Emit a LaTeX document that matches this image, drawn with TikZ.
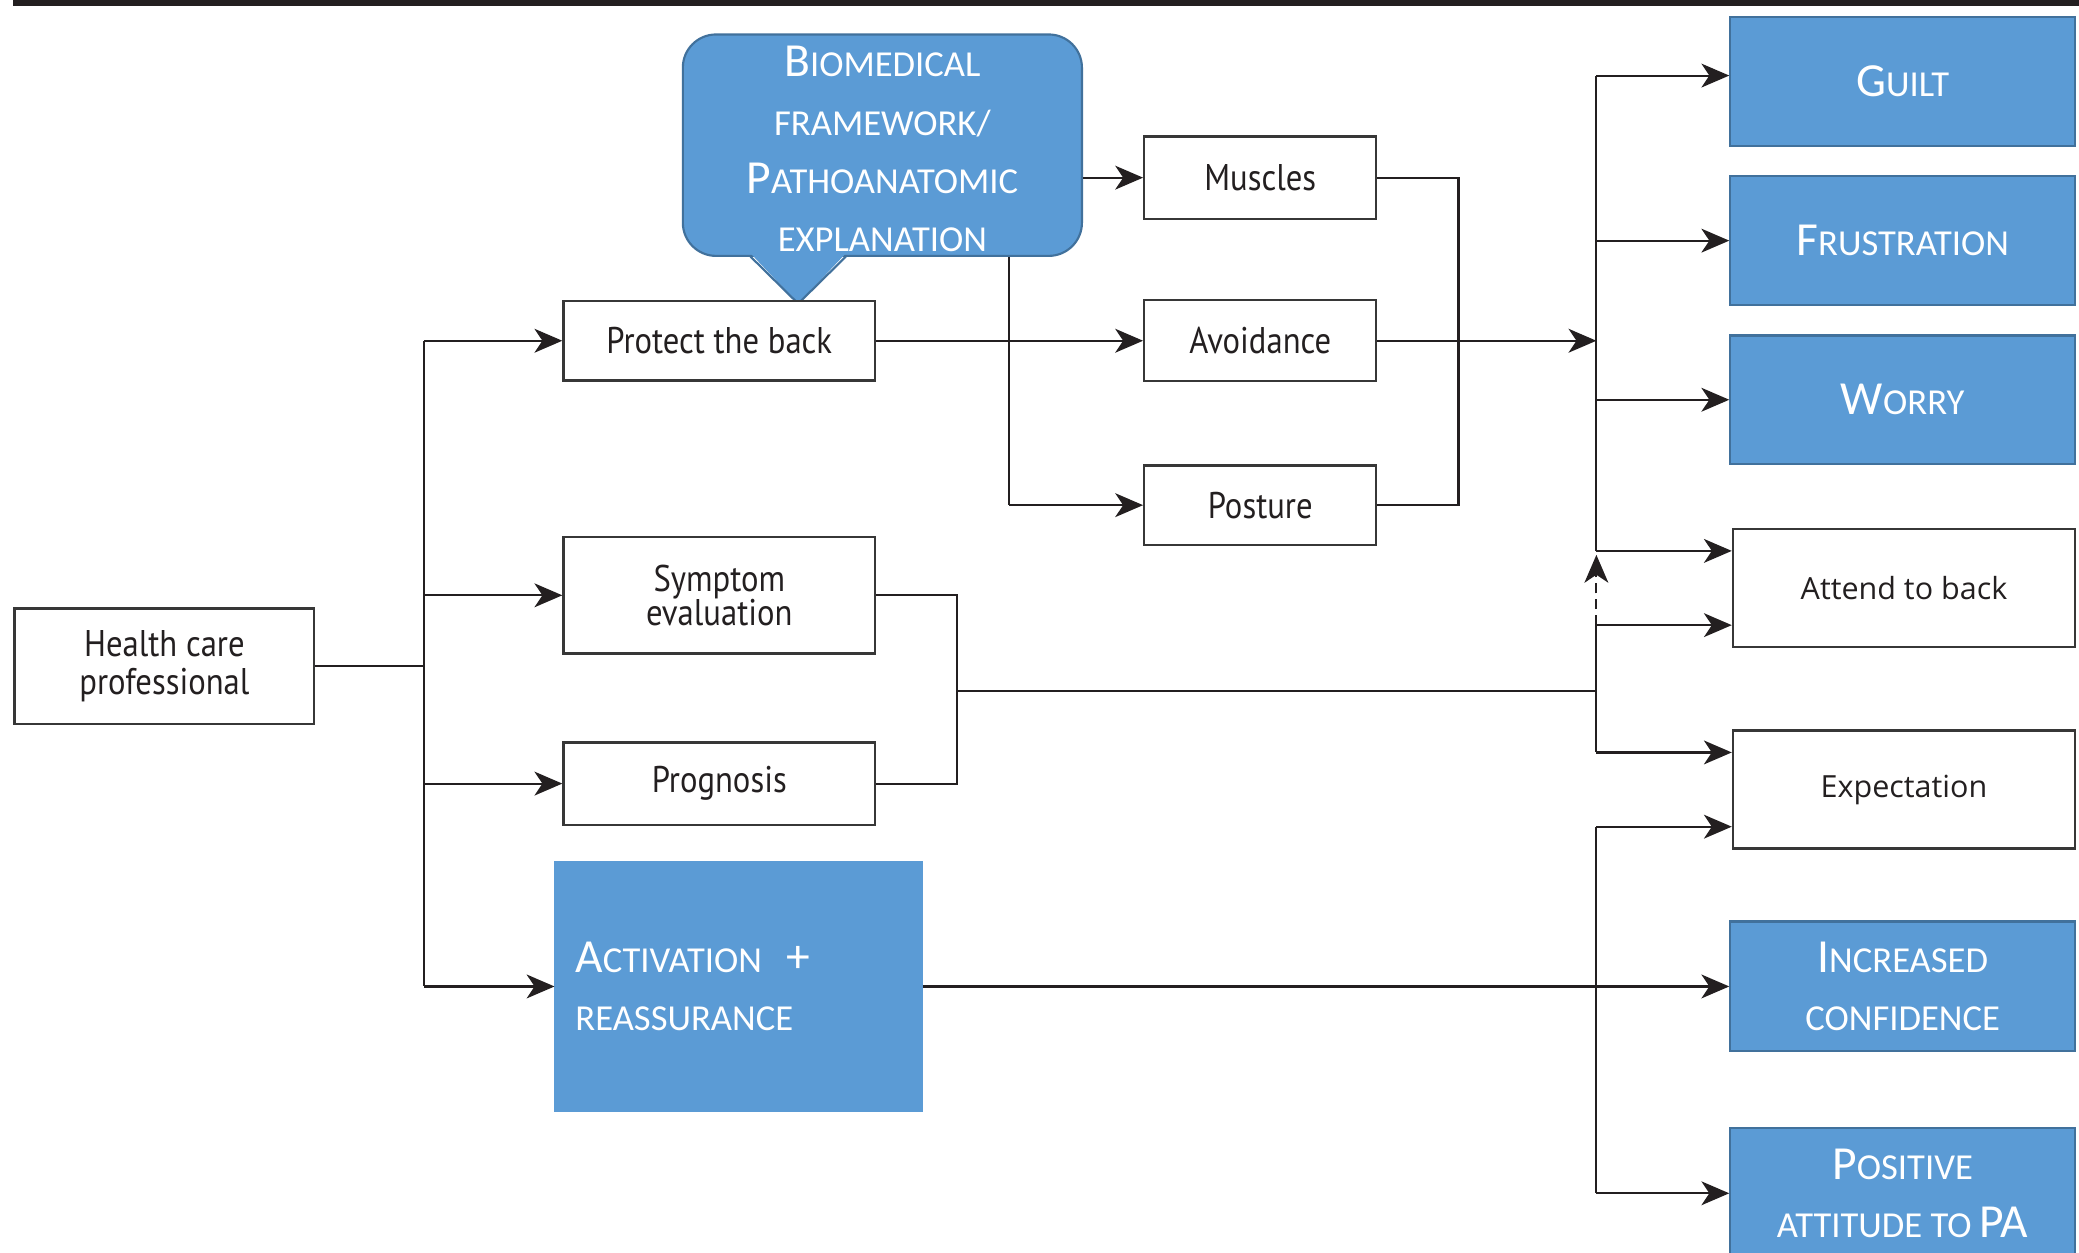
\documentclass[tikz,border=0pt]{standalone}
\usepackage{fontspec}
\setmainfont{PT Sans}
\newfontfamily\narrowfont[FakeStretch=0.88]{PT Sans}
\newfontfamily\calfont{Carlito}
\newfontfamily\opfont{Open Sans}
\usetikzlibrary{arrows.meta}

\definecolor{boxblue}{RGB}{91,155,213}
\definecolor{blueedge}{RGB}{65,113,156}
\definecolor{ink}{RGB}{35,31,32}
\definecolor{edge}{RGB}{55,55,55}

% large initial capital for the small-caps labels
\newcommand\capl[1]{{\fontsize{17.9pt}{22pt}\selectfont #1}}

\tikzset{
  plain/.style={draw=edge, line width=0.9pt, fill=white, text=ink,
    font=\narrowfont\fontsize{14pt}{14pt}\selectfont, align=center, inner sep=0pt},
  wide/.style={plain, font=\opfont\fontsize{11.5pt}{14pt}\selectfont},
  bluebox/.style={draw=blueedge, line width=0.8pt, fill=boxblue, text=white,
    font=\calfont\fontsize{13.8pt}{22pt}\selectfont, align=center, inner sep=0pt},
  link/.style={draw=ink, line width=0.8pt},
  tip/.style={-{Stealth[length=10.5pt,width=9pt,inset=3pt]}},
  arr/.style={link, tip},
}

\begin{document}
\begin{tikzpicture}[x=0.5pt, y=-0.5pt]
\useasboundingbox (0,0) rectangle (1568,945);
\fill[white] (0,0) rectangle (1568,945);

% rule across the top
\fill[ink] (9.5,0) rectangle (1568,4.5);

% callout bubble
\node[bluebox, rounded corners=12.5pt, minimum width=150.5pt, minimum height=83.5pt]
  (bubble) at (665.5,109.5) {};
\node[text=white, font=\calfont\fontsize{13.8pt}{22pt}\selectfont, align=center, inner sep=0pt]
  at (665.5,112.5)
  {\capl{B}IOMEDICAL\\ FRAMEWORK/\\ \capl{P}ATHOANATOMIC\\ EXPLANATION};
\fill[boxblue] (566,191) -- (602,229) -- (638,191) -- cycle;
\draw[blueedge, line width=0.8pt] (566,193.5) -- (602,229) -- (638,193.5);

% left column
\node[plain, minimum width=113pt, minimum height=43.5pt] (hcp) at (124,502.5)
  {Health care\\ professional};
\node[plain, minimum width=117.5pt, minimum height=30pt] (protect) at (542.5,257)
  {Protect the back};
\node[plain, minimum width=117.5pt, minimum height=44pt, font=\narrowfont\fontsize{14pt}{13pt}\selectfont]
  (symptom) at (542.5,449) {Symptom\\ evaluation};
\node[plain, minimum width=117.5pt, minimum height=31pt] (prognosis) at (542.5,591)
  {Prognosis};
\node[bluebox, draw=boxblue, text width=123pt, inner xsep=7.5pt, minimum height=94pt, align=left]
  (act) at (557,744) {\capl{A}CTIVATION\ \ \capl{+}\\ REASSURANCE};

% middle column
\node[plain, minimum width=87.5pt, minimum height=31pt] (muscles) at (950.5,134) {Muscles};
\node[plain, minimum width=87.5pt, minimum height=30.5pt] (avoid) at (950.5,257) {Avoidance};
\node[plain, minimum width=87.5pt, minimum height=30pt] (posture) at (950.5,381) {Posture};

% right column
\node[bluebox, minimum width=130pt, minimum height=48.5pt] (guilt) at (1435,61.5) {\capl{G}UILT};
\node[bluebox, minimum width=130pt, minimum height=48.5pt] (frust) at (1435,181.5) {\capl{F}RUSTRATION};
\node[bluebox, minimum width=130pt, minimum height=48.5pt] (worry) at (1435,301.5) {\capl{W}ORRY};
\node[wide, minimum width=129pt, minimum height=44.5pt] (attend) at (1436,443.5) {Attend to back};
\node[wide, minimum width=129pt, minimum height=44.5pt] (expect) at (1436,595.5) {Expectation};
\node[bluebox, minimum width=130pt, minimum height=49pt] (incr) at (1435,744)
  {\capl{I}NCREASED\\ CONFIDENCE};
\node[bluebox, minimum width=130pt, minimum height=49pt] (posit) at (1435,900)
  {\capl{P}OSITIVE\\ ATTITUDE TO \capl{PA}};

% junction points
\coordinate (L) at (320,502.5);
\coordinate (V) at (761,193);
\coordinate (M) at (1100,257);
\coordinate (S) at (722,520);
\coordinate (R) at (1204,257);
\coordinate (J) at (1204,521);
\coordinate (g1) at ([yshift=2.25pt]guilt.west);
\coordinate (a1) at ([yshift=14pt]attend.west);
\coordinate (a2) at ([yshift=-14pt]attend.west);
\coordinate (e1) at ([yshift=14pt]expect.west);
\coordinate (e2) at ([yshift=-14pt]expect.west);

% health care professional fan-out
\draw[link] (hcp.east) -- (L);
\draw[link] (L |- protect) -- (L |- act);
\draw[arr] (L |- protect) -- (protect);
\draw[arr] (L |- symptom) -- (symptom);
\draw[arr] (L |- prognosis) -- (prognosis);
\draw[arr] (L |- act) -- (act);

% biomedical framework branch
\draw[arr] (bubble.east |- muscles) -- (muscles.west);
\draw[arr] (protect.east) -- (avoid.west);
\draw[link] (V |- bubble.south) -- (V |- posture);
\draw[arr] (V |- posture) -- (posture.west);

% merge into the right trunk
\draw[link] (muscles.east) -| (M |- posture.east) -- (posture.east);
\draw[arr] (avoid.east) -- (R);
\draw[link] (R |- g1) -- (R |- a1);
\draw[arr] (R |- g1) -- (g1);
\draw[arr] (R |- frust) -- (frust);
\draw[arr] (R |- worry) -- (worry);
\draw[arr] (R |- a1) -- (a1);
\draw[arr] (R |- a2) -- (a2);

% symptom evaluation / prognosis branch
\draw[link] (symptom.east) -| (S |- prognosis.east) -- (prognosis.east);
\draw[link] (S |- J) -- (J);
\draw[link] (R |- a2) -- (R |- e1);
\draw[link, tip, dash pattern=on 4pt off 2pt]
  (R |- a2) -- ([yshift=-1.5pt]R |- a1);
\draw[arr] (R |- e1) -- (e1);

% activation branch
\draw[arr] (act.east) -- (incr.west);
\draw[link] (R |- e2) -- (R |- posit);
\draw[arr] (R |- e2) -- (e2);
\draw[arr] (R |- posit) -- (posit);
\end{tikzpicture}
\end{document}
